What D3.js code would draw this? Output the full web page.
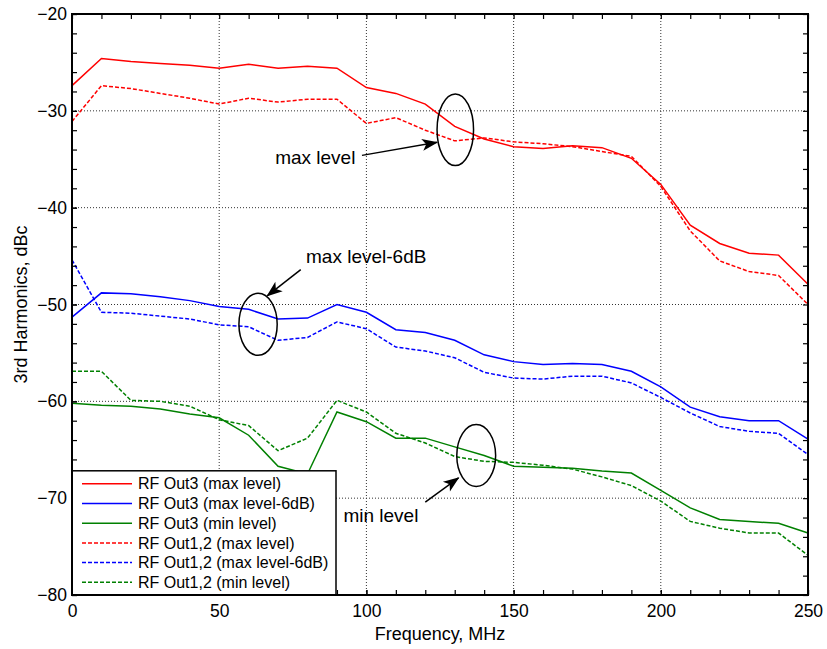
<meta charset="utf-8">
<title>3rd Harmonics</title>
<style>
  body { margin: 0; background: #fff; }
  svg { display: block; font-family: Arial, "Liberation Sans", Helvetica, sans-serif; }
</style>
<body>
<script src="https://cdn.jsdelivr.net/npm/d3@7"></script>
<script>

var width = 827;
var height = 649;
var margin = { top: 14, right: 19, bottom: 54, left: 72 };

// data
var freq = [0,10,20,30,40,50,60,70,80,90,100,110,120,130,140,150,160,170,180,190,200,210,220,230,240,250];
var out3Max  = [-27.4,-24.6,-24.9,-25.1,-25.3,-25.6,-25.2,-25.6,-25.4,-25.6,-27.6,-28.2,-29.3,-31.6,-32.9,-33.7,-33.9,-33.6,-33.8,-34.9,-37.6,-41.8,-43.7,-44.7,-44.9,-47.9];
var out3Mid  = [-51.3,-48.8,-48.9,-49.2,-49.6,-50.2,-50.5,-51.5,-51.4,-50.0,-50.8,-52.6,-52.9,-53.7,-55.2,-55.9,-56.2,-56.1,-56.2,-56.9,-58.5,-60.6,-61.6,-62.0,-62.0,-63.9];
var out3Min  = [-60.2,-60.4,-60.5,-60.8,-61.3,-61.7,-63.5,-66.7,-67.5,-61.1,-62.1,-63.8,-63.8,-64.7,-65.6,-66.7,-66.8,-66.9,-67.2,-67.4,-69.2,-71.0,-72.2,-72.4,-72.6,-73.6];
var out12Max = [-31.1,-27.4,-27.7,-28.2,-28.7,-29.3,-28.7,-29.1,-28.8,-28.8,-31.3,-30.7,-32.0,-33.1,-32.8,-33.2,-33.4,-33.7,-34.2,-34.7,-37.8,-42.4,-45.5,-46.6,-47.0,-50.0];
var out12Mid = [-45.4,-50.8,-50.9,-51.2,-51.5,-52.1,-52.3,-53.7,-53.4,-51.8,-52.5,-54.4,-54.8,-55.5,-57.0,-57.6,-57.7,-57.4,-57.4,-58.1,-59.6,-61.2,-62.6,-63.1,-63.3,-65.5];
var out12Min = [-56.9,-56.9,-59.9,-60.0,-60.5,-61.9,-62.5,-65.1,-63.8,-59.9,-61.1,-63.3,-64.3,-65.7,-66.2,-66.3,-66.6,-67.0,-67.8,-68.7,-70.3,-72.4,-73.1,-73.6,-73.6,-75.9];

var seriesNames = ['RF Out3 (max level)','RF Out3 (max level-6dB)','RF Out3 (min level)',
                   'RF Out1,2 (max level)','RF Out1,2 (max level-6dB)','RF Out1,2 (min level)'];
var seriesValues = [out3Max, out3Mid, out3Min, out12Max, out12Mid, out12Min];
var seriesColors = ['#ff0000','#0000ff','#008000','#ff0000','#0000ff','#008000'];
var seriesDashed = [false,false,false,true,true,true];

var xTicks = [0,50,100,150,200,250];
var yTicks = [-80,-70,-60,-50,-40,-30,-20];

// annotations (data units): label, text pos, arrow from/to, ellipse centre + radii
var noteText  = ['max level','max level-6dB','min level'];
var noteTextX = [69, 79.5, 92.2];
var noteTextY = [-35.5, -45.7, -72.5];
var arrowFrom = [[98.5,-34.6],[77.7,-46.4],[120.0,-70.4]];
var arrowTo   = [[124.0,-33.25],[66.3,-49.1],[131.3,-67.9]];
var ellCenter = [[130.2,-31.95],[63.2,-52.05],[137.3,-65.6]];
var ellRadius = [[6.2,3.7],[6.5,3.2],[6.6,3.2]];

var svg = d3.select('body').append('svg')
    .attr('width', width)
    .attr('height', height);

var x = d3.scaleLinear().domain([0, 250]).range([margin.left, width - margin.right]);
var y = d3.scaleLinear().domain([-80, -20]).range([height - margin.bottom, margin.top]);

// grid
var grid = svg.append('g').attr('stroke', '#333').attr('stroke-width', 1).attr('stroke-dasharray', '1,2');
grid.selectAll('.gx').data(xTicks.slice(1, -1)).enter().append('line')
    .attr('x1', d => x(d)).attr('x2', d => x(d))
    .attr('y1', y(-80)).attr('y2', y(-20));
grid.selectAll('.gy').data(yTicks.slice(1, -1)).enter().append('line')
    .attr('y1', d => y(d)).attr('y2', d => y(d))
    .attr('x1', x(0)).attr('x2', x(250));

// series
var line = d3.line().x((d, i) => x(freq[i])).y(d => y(d));
svg.append('g').selectAll('path')
    .data(seriesValues).enter().append('path')
    .attr('d', d => line(d))
    .attr('fill', 'none')
    .attr('stroke', (d, i) => seriesColors[i])
    .attr('stroke-width', 1.5)
    .attr('stroke-dasharray', (d, i) => seriesDashed[i] ? '4,2' : null);

// annotations
svg.append('defs').append('marker')
    .attr('id', 'arrow')
    .attr('markerUnits', 'userSpaceOnUse')
    .attr('viewBox', '-16 -7 18 14')
    .attr('markerWidth', 18).attr('markerHeight', 14)
    .attr('refX', 0).attr('refY', 0)
    .attr('orient', 'auto')
  .append('path')
    .attr('d', 'M1,0 L-15,-6 L-11,0 L-15,6 Z')
    .attr('fill', '#000');

var notes = svg.append('g');
notes.selectAll('ellipse').data(ellCenter).enter().append('ellipse')
    .attr('cx', d => x(d[0])).attr('cy', d => y(d[1]))
    .attr('rx', (d, i) => x(ellRadius[i][0]) - x(0))
    .attr('ry', (d, i) => y(-80) - y(-80 + ellRadius[i][1]))
    .attr('fill', 'none').attr('stroke', '#000').attr('stroke-width', 1.5);
notes.selectAll('line').data(arrowFrom).enter().append('line')
    .attr('x1', d => x(d[0])).attr('y1', d => y(d[1]))
    .attr('x2', (d, i) => x(arrowTo[i][0])).attr('y2', (d, i) => y(arrowTo[i][1]))
    .attr('stroke', '#000').attr('stroke-width', 1.5)
    .attr('marker-end', 'url(#arrow)');
notes.selectAll('text').data(noteText).enter().append('text')
    .attr('x', (d, i) => x(noteTextX[i])).attr('y', (d, i) => y(noteTextY[i]))
    .attr('font-size', 19).attr('fill', '#000')
    .text(d => d);

// axes: labelled major ticks + minor ticks, all inward, on all four sides
var xAxis = d3.axisBottom(x).tickValues(xTicks).tickSize(-5).tickPadding(10).tickFormat(d3.format('d'));
var yAxis = d3.axisLeft(y).tickValues(yTicks).tickSize(-5).tickPadding(5).tickFormat(d3.format('d'));
var xMinor = d3.range(0, 251, 10);
var yMinor = d3.range(-80, -19, 2);

var gx = svg.append('g').attr('transform', 'translate(0,' + y(-80) + ')').call(xAxis);
var gy = svg.append('g').attr('transform', 'translate(' + x(0) + ',0)').call(yAxis);
svg.append('g').attr('transform', 'translate(0,' + y(-80) + ')')
    .call(d3.axisBottom(x).tickValues(xMinor).tickSize(-5).tickFormat(''));
svg.append('g').attr('transform', 'translate(0,' + y(-20) + ')')
    .call(d3.axisTop(x).tickValues(xMinor).tickSize(-5).tickFormat(''));
svg.append('g').attr('transform', 'translate(' + x(0) + ',0)')
    .call(d3.axisLeft(y).tickValues(yMinor).tickSize(-5).tickFormat(''));
svg.append('g').attr('transform', 'translate(' + x(250) + ',0)')
    .call(d3.axisRight(y).tickValues(yMinor).tickSize(-5).tickFormat(''));

svg.selectAll('.domain').remove();
svg.selectAll('g[font-family]').attr('font-family', null).attr('font-size', null);
svg.selectAll('.tick line').attr('stroke', '#000').attr('stroke-width', 1.2);
svg.selectAll('.tick text').attr('font-size', 17.5).attr('fill', '#000');

// legend
var legendH = seriesNames.length * 19.7 + 6;
var legend = svg.append('g').attr('transform', 'translate(' + x(0) + ',' + (y(-80) - legendH) + ')');
legend.append('rect')
    .attr('width', 264).attr('height', legendH)
    .attr('fill', '#fff').attr('stroke', '#000').attr('stroke-width', 1.5);
var rows = legend.selectAll('.row').data(seriesNames).enter().append('g')
    .attr('transform', (d, i) => 'translate(0,' + (13 + i * 19.7) + ')');
rows.append('line')
    .attr('x1', 10).attr('x2', 60)
    .attr('stroke', (d, i) => seriesColors[i])
    .attr('stroke-width', 1.5)
    .attr('stroke-dasharray', (d, i) => seriesDashed[i] ? '4,2' : null);
rows.append('text')
    .attr('x', 66).attr('dy', '0.35em')
    .attr('font-size', 16).attr('fill', '#000')
    .text(d => d);

// frame
svg.append('rect')
    .attr('x', x(0)).attr('y', y(-20))
    .attr('width', x(250) - x(0)).attr('height', y(-80) - y(-20))
    .attr('fill', 'none').attr('stroke', '#000').attr('stroke-width', 2);

// titles
svg.append('text')
    .attr('x', (x(0) + x(250)) / 2).attr('y', 640)
    .attr('text-anchor', 'middle').attr('font-size', 18)
    .text('Frequency, MHz');
svg.append('text')
    .attr('transform', 'translate(27,' + (y(-80) + y(-20)) / 2 + ') rotate(-90)')
    .attr('text-anchor', 'middle').attr('font-size', 18)
    .text('3rd Harmonics, dBc');

</script>
